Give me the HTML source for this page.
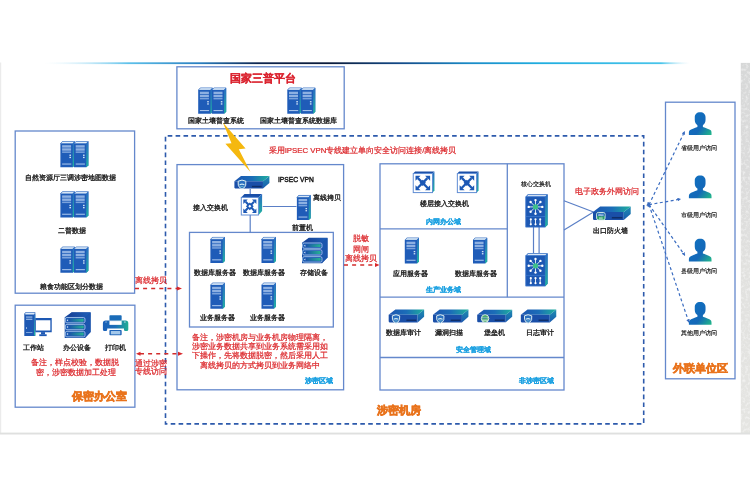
<!DOCTYPE html>
<html><head><meta charset="utf-8">
<style>
html,body{margin:0;padding:0;background:#fff;width:750px;height:491px;overflow:hidden}
svg{display:block;font-family:"Liberation Sans",sans-serif;will-change:transform}
.t{font-size:7.25px;fill:#1c1c1c;stroke:#1c1c1c;stroke-width:0.32}
.r{font-size:7.8px;fill:#dc2a2e;stroke:#dc2a2e;stroke-width:0.24}
.c{font-size:7px;fill:#1ea2e2;font-weight:bold;stroke:#1ea2e2;stroke-width:0.22}
.o{font-size:11px;fill:#e9731c;font-weight:bold;stroke:#e9731c;stroke-width:0.6}
.bx{fill:none;stroke:#6488cc;stroke-width:1.3}
.ln{fill:none;stroke:#5a7fc6;stroke-width:1.2}
.dsh{fill:none;stroke:#2d5aac;stroke-width:1.6;stroke-dasharray:4.6 3.3;stroke-dashoffset:5.7}
.rd{fill:none;stroke:#d22c2c;stroke-width:1.5;stroke-dasharray:4 4.1}
</style></head><body>
<svg width="750" height="491" viewBox="0 0 750 491">
<defs>
<linearGradient id="topln" x1="0" x2="1" y1="0" y2="0">
<stop offset="0" stop-color="#cfeefa" stop-opacity="0"/>
<stop offset="0.13" stop-color="#5cc0ea"/>
<stop offset="0.24" stop-color="#2a7fc0"/>
<stop offset="0.33" stop-color="#0e2550"/>
<stop offset="0.44" stop-color="#0b1b3a"/>
<stop offset="0.55" stop-color="#134a88"/>
<stop offset="0.66" stop-color="#1a8cc8"/>
<stop offset="0.77" stop-color="#20aee0"/>
<stop offset="0.955" stop-color="#48c4ea"/>
<stop offset="1" stop-color="#cfeefa" stop-opacity="0"/>
</linearGradient>
<linearGradient id="pg" x1="0.1" y1="0.2" x2="1" y2="0.9">
<stop offset="0" stop-color="#1070c0"/>
<stop offset="0.55" stop-color="#1468b8"/>
<stop offset="1" stop-color="#20b28c"/>
</linearGradient>
<linearGradient id="teal" x1="0" y1="0" x2="0" y2="1">
<stop offset="0" stop-color="#2a6cc4"/>
<stop offset="1" stop-color="#1fb3a0"/>
</linearGradient>
<linearGradient id="devtop" x1="0" y1="0" x2="1" y2="0">
<stop offset="0" stop-color="#1c55b0"/>
<stop offset="0.5" stop-color="#1b6db8"/>
<stop offset="1" stop-color="#1fb09c"/>
</linearGradient>
<linearGradient id="stortop" x1="0" x2="1" y1="0" y2="0"><stop offset="0" stop-color="#173f94"/><stop offset="1" stop-color="#1e5fb8"/></linearGradient>
<linearGradient id="devtop2" x1="0" x2="1" y1="0" y2="0"><stop offset="0" stop-color="#1a52a9"/><stop offset="1" stop-color="#25b392"/></linearGradient>
<linearGradient id="prng" x1="0" x2="1" y1="0" y2="0"><stop offset="0" stop-color="#1a5fb8"/><stop offset="0.5" stop-color="#1b6fb8"/><stop offset="1" stop-color="#20ae92"/></linearGradient>
<linearGradient id="strip" x1="0" x2="0" y1="0" y2="1"><stop offset="0" stop-color="#d7d8d8"/><stop offset="0.3" stop-color="#dbdbdb"/><stop offset="0.55" stop-color="#e1e1df"/><stop offset="1" stop-color="#e5e5e2"/></linearGradient>
<filter id="noise" x="0" y="0" width="100%" height="100%"><feTurbulence type="fractalNoise" baseFrequency="0.35" numOctaves="2" seed="3" result="n"/><feColorMatrix in="n" type="matrix" values="0 0 0 0 1  0 0 0 0 1  0 0 0 0 1  0 0 0 1.2 -0.55" result="w"/><feComposite in="w" in2="SourceGraphic" operator="in" result="wc"/><feMerge><feMergeNode in="SourceGraphic"/><feMergeNode in="wc"/></feMerge></filter>
<linearGradient id="devside" x1="0" x2="0" y1="0" y2="1"><stop offset="0" stop-color="#1d8fb0"/><stop offset="1" stop-color="#1a5ab0"/></linearGradient>
<!-- single server tower 15x26 -->
<symbol id="srv" viewBox="0 0 15 26" overflow="visible">
<path d="M0.6 2.2 L2.6 0 L15 0 L15 24 L13 26 L0.6 26 Z" fill="#1f5cb8"/>
<path d="M0.8 2.3 L2.8 0.3 L14.8 0.3 L12.8 2.3 Z" fill="#e4f0fb" stroke="#2c68c0" stroke-width="0.4"/>
<path d="M12.9 2.3 L15 0.2 L15 24 L12.9 26 Z" fill="url(#teal)"/>
<rect x="2.3" y="4" width="9" height="2.4" fill="#8db0e2"/>
<rect x="2.3" y="7.1" width="9" height="2.4" fill="#8db0e2"/>
<rect x="2.3" y="10.2" width="9" height="1.5" fill="#7aa2dc"/>
<rect x="9.6" y="13.4" width="1.6" height="1.3" fill="#d4e4f6"/>
<rect x="9.6" y="15.6" width="1.6" height="1.3" fill="#d4e4f6"/>
<rect x="2.3" y="22.3" width="9.2" height="1.1" fill="#a3c1ea"/>
</symbol>
<!-- rack 29x26 -->
<symbol id="rack" viewBox="0 0 29 26" overflow="visible">
<use href="#srv" x="0" y="0" width="15" height="26"/>
<use href="#srv" x="13.6" y="0" width="15" height="26"/>
</symbol>
<!-- access switch 22x22 -->
<symbol id="swb" viewBox="0 0 22 22" overflow="visible">
<path d="M0.3 3.5 L3.8 0 L22 0 L18.2 3.5 Z" fill="#1a4fa8"/>
<path d="M18.2 3.5 L22 0 L22 17.6 L18.2 22 Z" fill="url(#teal)"/>
<rect x="0.5" y="3.5" width="17.7" height="18.2" fill="#fff" stroke="#5d8bd3" stroke-width="1"/>
<g stroke="#1c58b5" stroke-width="2.1" fill="none">
<path d="M5 8 L14 17.3 M13.7 8 L4.7 17.3"/>
</g>
<g fill="#1c58b5">
<path d="M2.6 5.6 L7.2 5.6 L2.6 10.2 Z"/><path d="M16.1 5.6 L11.5 5.6 L16.1 10.2 Z"/>
<path d="M2.6 19.6 L7.2 19.6 L2.6 15 Z"/><path d="M16.1 19.6 L11.5 19.6 L16.1 15 Z"/>
</g>
</symbol>
<symbol id="sw" viewBox="0 0 22 22" overflow="visible">
<use href="#swb" x="0" y="0" width="22" height="22"/>
<rect x="7.3" y="10.7" width="4" height="4" fill="#fff" stroke="#1c58b5" stroke-width="1.7" transform="rotate(45 9.3 12.7)"/>
</symbol>
<symbol id="sw2" viewBox="0 0 22 22" overflow="visible">
<path d="M0.3 2.4 L2.4 0.3 L22 0.3 L20 2.4 Z" fill="#1a4fa8"/>
<path d="M20 2.4 L22 0.3 L22 19.6 L20 21.8 Z" fill="url(#teal)"/>
<rect x="0.5" y="2.4" width="19.5" height="19.3" fill="#fff" stroke="#5d8bd3" stroke-width="1"/>
<g stroke="#1c58b5" stroke-width="2.3" fill="none"><path d="M5.2 7 L15.2 17 M14.9 7 L4.9 17"/></g>
<g fill="#1c58b5">
<path d="M2.8 4.6 L7.9 4.6 L2.8 9.7 Z"/><path d="M17.6 4.6 L12.5 4.6 L17.6 9.7 Z"/>
<path d="M2.8 19.4 L7.9 19.4 L2.8 14.3 Z"/><path d="M17.6 19.4 L12.5 19.4 L17.6 14.3 Z"/>
</g>
<rect x="7.8" y="9.5" width="4.6" height="4.6" fill="#1c58b5" transform="rotate(45 10.1 11.8)"/>
</symbol>
<!-- core switch 22x33 -->
<symbol id="core" viewBox="0 0 22 33" overflow="visible">
<path d="M0 2.5 L2.2 0 L22 0 L22 30.5 L19.6 33 L0 33 Z" fill="#1d58b3"/>
<path d="M0.6 2.5 L2.6 0.5 L21.4 0.5 L19.6 2.5 Z" fill="#eef5fc" stroke="#3a74cc" stroke-width="0.5"/>
<rect x="0.3" y="2.5" width="19.3" height="30.2" fill="#1d58b3" stroke="#3f7bd0" stroke-width="0.6"/>
<path d="M19.6 2.5 L22 0.2 L22 30.6 L19.6 33 Z" fill="url(#teal)"/>
<g stroke="#eaf2fb" stroke-width="0.9">
<path d="M9.9 12.6 L9.9 6 M9.9 12.6 L9.9 19.2 M9.9 12.6 L3.3 12.6 M9.9 12.6 L16.5 12.6 M9.9 12.6 L5.2 7.9 M9.9 12.6 L14.6 7.9 M9.9 12.6 L5.2 17.3 M9.9 12.6 L14.6 17.3"/>
</g>
<g fill="#fff"><circle cx="9.9" cy="5.8" r="1.2"/><circle cx="9.9" cy="19.4" r="1.2"/><circle cx="3.1" cy="12.6" r="1.2"/><circle cx="16.7" cy="12.6" r="1.2"/><circle cx="5" cy="7.7" r="1.2"/><circle cx="14.8" cy="7.7" r="1.2"/><circle cx="5" cy="17.5" r="1.2"/><circle cx="14.8" cy="17.5" r="1.2"/></g>
<circle cx="9.9" cy="12.6" r="2.6" fill="#3cc08a"/>
<line x1="0.3" y1="22.2" x2="19.6" y2="22.2" stroke="#3f7bd0" stroke-width="0.7"/>
<g stroke="#fff" stroke-width="0.9"><path d="M5.2 25 V30 M9.9 25 V30 M14.6 25 V30"/></g>
<g fill="#fff"><circle cx="5.2" cy="25" r="1.1"/><circle cx="5.2" cy="30" r="1.1"/><circle cx="9.9" cy="25" r="1.1"/><circle cx="9.9" cy="30" r="1.1"/><circle cx="14.6" cy="25" r="1.1"/><circle cx="14.6" cy="30" r="1.1"/></g>
</symbol>
<!-- flat device 36x13 -->
<symbol id="dev" viewBox="0 0 36 13" overflow="visible">
<path d="M0 5.3 L6.8 0 L36 0 L29.4 5.3 Z" fill="url(#devtop)"/>
<path d="M0 5.3 H29.4 V13 H0.8 L0 12.2 Z" fill="#1a4fa8"/>
<path d="M29.4 5.3 L36 0 V7.2 L29.4 13 Z" fill="url(#devside)"/>
<rect x="18" y="10.1" width="10" height="1.5" fill="#0f2f6a"/>
</symbol>
<symbol id="shield" viewBox="0 0 10 11" overflow="visible">
<path d="M5 0.6 L9.3 1.9 L9.1 6.4 Q8.2 9.4 5 10.5 Q1.8 9.4 0.9 6.4 L0.7 1.9 Z" fill="#2a6fbf" stroke="#e4f4f4" stroke-width="1.1"/>
<path d="M2.2 5.2 Q5 3.6 7.8 5.2 L7.8 6.6 Q5 5.2 2.2 6.6 Z" fill="#cfeaf2"/>
<path d="M3 8.2 Q5 7.2 7 8.2" stroke="#7fc9d8" stroke-width="0.8" fill="none"/>
</symbol>
<symbol id="globe" viewBox="0 0 10 10" overflow="visible">
<circle cx="5" cy="5" r="4.4" fill="#2f9e5a" stroke="#eaf6ef" stroke-width="1"/>
<path d="M1.2 3.6 H8.8 M0.9 5.6 H9.1 M1.6 7.4 H8.4" stroke="#e9f5ee" stroke-width="0.8"/>
<path d="M2 4.6 H7" stroke="#1e5fb0" stroke-width="0.8"/>
</symbol>
<!-- person 24x24 -->
<symbol id="person" viewBox="0 0 24 24" overflow="visible">
<path d="M11.8 0.2 C15.3 0.2 17.3 2.3 17.3 5.4 L17.3 8.2 C17.3 10.8 16 12.6 14.6 13.5 L14.6 15.2 C17.5 16.3 21.4 17.5 22.6 18.7 C23.3 19.4 23.4 20.4 23.4 21.5 L23.4 23.4 L0.3 23.4 L0.3 21.5 C0.3 20.4 0.5 19.4 1.2 18.7 C2.4 17.5 6.2 16.3 9 15.2 L9 13.5 C7.6 12.6 6.3 10.8 6.3 8.2 L6.3 5.4 C6.3 2.3 8.3 0.2 11.8 0.2 Z" fill="url(#pg)"/>
</symbol>
<!-- storage stack 26x26 -->
<symbol id="stor" viewBox="0 0 26 26" overflow="visible">
<path d="M0 5 L7 0 L26 0 L26 20 L20.5 26 L0 26 Z" fill="#1a4fa6"/>
<path d="M1.5 5 L7 0.3 L26 0.3 L20.5 5 Z" fill="url(#stortop)"/>
<path d="M20.5 5 L26 0.3 L26 20 L20.5 25.5 Z" fill="#1b55ad"/>
<g stroke="#b5d2f2" stroke-width="0.8">
<rect x="0.6" y="5.3" width="19.8" height="5.4" rx="1.6" fill="#1f5bb3"/>
<rect x="0.6" y="12.2" width="19.8" height="5.4" rx="1.6" fill="#1f5bb3"/>
<rect x="0.6" y="19.2" width="19.8" height="5.6" rx="1.6" fill="#1f5bb3"/>
</g>
<rect x="4" y="6.5" width="15" height="3" rx="0.8" fill="url(#devtop2)"/>
<rect x="4" y="13.4" width="15" height="3" rx="0.8" fill="url(#devtop2)"/>
<rect x="4" y="20.5" width="15" height="3" rx="0.8" fill="url(#devtop2)"/>
<g fill="#e6f2fb"><path d="M2 8 L3.4 7 L3.4 9 Z"/><path d="M2 14.9 L3.4 13.9 L3.4 15.9 Z"/><path d="M2 22 L3.4 21 L3.4 23 Z"/></g>
</symbol>
<!-- workstation 29x25 -->
<symbol id="ws" viewBox="0 0 29 25" overflow="visible">
<path d="M0 1.5 L1.2 0 L11.3 0 L11.3 24.5 L0 24.5 Z" fill="#1d58b3"/>
<rect x="1" y="0.5" width="9.6" height="1.8" fill="#dcebfa"/>
<rect x="10" y="2" width="1.3" height="22" fill="url(#teal)"/>
<rect x="1.8" y="4.3" width="6.5" height="1.2" fill="#9cbce6"/>
<rect x="1.8" y="6.6" width="6.5" height="1.2" fill="#9cbce6"/>
<rect x="1.8" y="15.4" width="0.8" height="1.6" fill="#cfe0f5"/>
<rect x="1.8" y="20.4" width="6.5" height="0.9" fill="#8fb2e2"/>
<path d="M11.3 5.8 H28.2 V20.4 H11.3 Z M12 8.3 V18.6 H26.8 V8.3 Z" fill="#1d58b3" fill-rule="evenodd"/>
<rect x="17.2" y="20.4" width="4.1" height="2.4" fill="#1d58b3"/>
<rect x="15.4" y="22.6" width="7.6" height="1.9" fill="#1d58b3"/>
</symbol>
<!-- printer 26x21 -->
<symbol id="prn" viewBox="0 0 26 21" overflow="visible">
<rect x="6.7" y="0" width="12.5" height="5.2" rx="0.8" fill="#1a6cb8"/>
<path d="M2.8 5.4 H23.2 Q26 5.4 26 8.2 V14.6 Q26 16.2 24.4 16.2 H23 Q21.6 16.2 21.6 14.8 V13.5 H4.4 V14.8 Q4.4 16.2 3 16.2 H1.6 Q0 16.2 0 14.6 V8.2 Q0 5.4 2.8 5.4 Z" fill="url(#prng)"/>
<rect x="6.7" y="6" width="12.5" height="3.9" fill="#fff"/>
<rect x="2.6" y="6.6" width="1.2" height="0.8" fill="#d9ebf7"/><rect x="21.6" y="6.6" width="1.8" height="0.8" fill="#d9ebf7"/>
<rect x="6.7" y="15.2" width="12.5" height="5.4" rx="0.8" fill="#1d63b8"/>
<rect x="8.1" y="16.2" width="9.7" height="3.4" fill="#a4c8ea"/>
</symbol>
<marker id="ah" viewBox="0 0 6 6" refX="5" refY="3" markerWidth="3.6" markerHeight="3.6" orient="auto" markerUnits="userSpaceOnUse"><path d="M0 0 L6 3 L0 6 Z" fill="#3a6cc0"/></marker>
<marker id="ahs" viewBox="0 0 6 6" refX="1" refY="3" markerWidth="3.6" markerHeight="3.6" orient="auto-start-reverse" markerUnits="userSpaceOnUse"><path d="M0 0 L6 3 L0 6 Z" fill="#3a6cc0"/></marker>
<symbol id="fwico" viewBox="0 0 10 9" overflow="visible">
<rect x="0.5" y="0.5" width="9" height="8" rx="1.8" fill="#2a9f66" stroke="#def2ee" stroke-width="1"/>
<path d="M1 2.3 Q1 1 2.3 1 H7.7 Q9 1 9 2.3 V4.6 H1 Z" fill="#2466b8"/>
<path d="M2 2.4 H8 M2 3.8 H8 M4 2.4 V3.8 M6 3.8 V4.6" stroke="#d8ecf8" stroke-width="0.6"/>
<path d="M3 6.5 H7" stroke="#e6f5ee" stroke-width="1"/>
</symbol>
</defs>

<!-- frame -->
<rect x="0" y="62.5" width="1.2" height="371" fill="#ebebeb"/>
<rect x="740.8" y="62.9" width="9.2" height="371" fill="url(#strip)" filter="url(#noise)"/>
<rect x="0" y="432.6" width="750" height="1.9" fill="#dfe0df"/>
<rect x="45" y="62.3" width="645" height="1.8" fill="url(#topln)"/>

<!-- boxes -->
<rect class="bx" x="176.9" y="66.8" width="167.3" height="62"/>
<rect class="bx" x="15.2" y="131" width="119.4" height="162.2"/>
<rect class="bx" x="15.2" y="305.2" width="119.7" height="102"/>
<rect class="dsh" x="165.5" y="135.9" width="478.2" height="288"/>
<rect class="bx" x="177" y="164.6" width="166.6" height="225.2"/>
<rect class="bx" x="189.5" y="232.4" width="143.8" height="94.6"/>
<rect class="bx" x="380" y="163.8" width="184" height="226.2"/>
<line class="bx" x1="507.3" y1="163.8" x2="507.3" y2="297.2"/>
<line class="bx" x1="380" y1="228.8" x2="507.3" y2="228.8"/>
<line class="bx" x1="380" y1="297.2" x2="564" y2="297.2"/>
<line class="bx" x1="380" y1="357.5" x2="564" y2="357.5"/>
<rect class="bx" x="665.5" y="102.2" width="69.5" height="276.6"/>

<!-- top platform -->
<text class="o" x="263" y="82" text-anchor="middle" style="fill:#db2430;stroke:#db2430;stroke-width:0.2;font-size:11px">国家三普平台</text>
<use href="#rack" x="197.6" y="87.7" width="29" height="26"/>
<use href="#rack" x="286.7" y="87.7" width="29" height="26"/>
<text class="t" x="216.3" y="122.8" text-anchor="middle">国家土壤普查系统</text>
<text class="t" x="298.1" y="122.8" text-anchor="middle">国家土壤普查系统数据库</text>

<!-- left data -->
<use href="#rack" x="59.8" y="141.2" width="29" height="26"/>
<text class="t" x="70.6" y="180" text-anchor="middle">自然资源厅三调涉密地图数据</text>
<use href="#rack" x="59.8" y="191.4" width="29" height="26"/>
<text class="t" x="71.5" y="233" text-anchor="middle">二普数据</text>
<use href="#rack" x="59.8" y="246.8" width="29" height="26"/>
<text class="t" x="71.2" y="289.2" text-anchor="middle">粮食功能区划分数据</text>

<!-- office -->
<text class="t" x="33.9" y="350" text-anchor="middle">工作站</text>
<text class="t" x="76.6" y="350" text-anchor="middle">办公设备</text>
<text class="t" x="115" y="350" text-anchor="middle">打印机</text>
<use href="#stor" x="64.5" y="312.2" width="26.3" height="25.9"/>
<use href="#ws" x="24.3" y="312.2" width="28.2" height="24.5"/>
<use href="#prn" x="102.6" y="315.2" width="26" height="20.5"/>
<text class="r" x="75.4" y="364.5" text-anchor="middle">备注，样点校验，数据脱</text>
<text class="r" x="75.8" y="374.6" text-anchor="middle">密，涉密数据加工处理</text>
<text class="o" x="99.8" y="399.5" text-anchor="middle">保密办公室</text>

<!-- red connections -->
<line class="rd" x1="135" y1="288.4" x2="178" y2="288.4"/>
<path d="M177 286.4 L182 288.4 L177 290.4 Z" fill="#d8262a"/>
<text class="r" x="150.6" y="283.2" text-anchor="middle">离线拷贝</text>
<line class="rd" x1="140" y1="353.8" x2="179" y2="353.8"/>
<path d="M140.5 351.8 L136 353.8 L140.5 355.8 Z" fill="#d8262a"/>
<path d="M178 351.8 L183 353.8 L178 355.8 Z" fill="#d8262a"/>
<text class="r" x="151.4" y="365.5" text-anchor="middle">通过涉密</text>
<text class="r" x="151.4" y="374" text-anchor="middle">专线访问</text>
<line class="rd" x1="344" y1="265" x2="376" y2="265"/>
<path d="M375 263 L379.5 265 L375 267 Z" fill="#d8262a"/>
<text class="r" x="361" y="241" text-anchor="middle">脱敏</text>
<text class="r" x="361" y="251.6" text-anchor="middle">网闸</text>
<text class="r" x="361.4" y="260.8" text-anchor="middle">离线拷贝</text>

<text class="r" x="362.6" y="152.8" text-anchor="middle">采用IPSEC VPN专线建立单向安全访问连接/离线拷贝</text>

<!-- secret zone -->
<line class="ln" x1="250.2" y1="189" x2="250.2" y2="232.4"/>
<line class="ln" x1="262.7" y1="206.5" x2="296.5" y2="206.5"/>
<use href="#dev" x="234.4" y="175.8" width="35" height="13"/>
<use href="#shield" x="237.5" y="179.5" width="9" height="10"/>
<text class="t" x="278" y="181.7" textLength="35.8" lengthAdjust="spacingAndGlyphs" style="font-size:8px;stroke-width:0.5">IPSEC VPN</text>
<use href="#sw" x="240.7" y="194" width="21.5" height="21.3"/>
<text class="t" x="210.3" y="209.6" text-anchor="middle">接入交换机</text>
<use href="#srv" x="296.3" y="194.6" width="14.4" height="26"/>
<text class="t" x="313" y="200" >离线拷贝</text>
<text class="t" x="302.3" y="229.5" text-anchor="middle">前置机</text>

<use href="#srv" x="209.8" y="236.9" width="15" height="26.2"/>
<use href="#srv" x="260.9" y="236.9" width="15" height="26.2"/>
<use href="#stor" x="301.5" y="237.8" width="26.5" height="25.5"/>
<text class="t" x="214.5" y="275" text-anchor="middle">数据库服务器</text>
<text class="t" x="264.2" y="275" text-anchor="middle">数据库服务器</text>
<text class="t" x="313.5" y="275" text-anchor="middle">存储设备</text>
<use href="#srv" x="209.8" y="282.8" width="15" height="26"/>
<use href="#srv" x="260.9" y="282.8" width="15" height="26"/>
<text class="t" x="217" y="319.8" text-anchor="middle">业务服务器</text>
<text class="t" x="267" y="319.8" text-anchor="middle">业务服务器</text>

<text class="r" x="260" y="340.2" text-anchor="middle">备注，涉密机房与业务机房物理隔离，</text>
<text class="r" x="260" y="349.2" text-anchor="middle">涉密业务数据共享到业务系统需采用如</text>
<text class="r" x="260" y="358.4" text-anchor="middle">下操作，先将数据脱密，然后采用人工</text>
<text class="r" x="260" y="367.8" text-anchor="middle">离线拷贝的方式拷贝到业务网络中</text>
<text class="c" x="319" y="382.6" text-anchor="middle">涉密区域</text>
<text class="o" x="399" y="414" text-anchor="middle">涉密机房</text>

<!-- non-secret zone -->
<use href="#sw2" x="412.2" y="171.2" width="22.8" height="21.7"/>
<use href="#sw2" x="456.3" y="171.2" width="22.8" height="21.7"/>
<text class="t" x="444.6" y="206" text-anchor="middle">楼层接入交换机</text>
<text class="c" x="443" y="224" text-anchor="middle">内网办公域</text>
<use href="#srv" x="404.2" y="237.3" width="14.8" height="26.5"/>
<use href="#srv" x="472.4" y="237.3" width="14.8" height="26.5"/>
<text class="t" x="410.3" y="276" text-anchor="middle">应用服务器</text>
<text class="t" x="476" y="276" text-anchor="middle">数据库服务器</text>
<text class="c" x="443.3" y="291.7" text-anchor="middle">生产业务域</text>

<text class="t" x="536.2" y="186" text-anchor="middle" style="font-size:6.3px;stroke-width:0.2">核心交换机</text>
<line class="ln" x1="533.5" y1="227" x2="533.5" y2="253"/>
<line class="ln" x1="539.1" y1="227" x2="539.1" y2="253"/>
<use href="#core" x="525.6" y="194.3" width="22" height="33"/>
<use href="#core" x="525.6" y="253.2" width="22" height="33"/>

<use href="#dev" x="388.6" y="309.6" width="35.6" height="12.8"/>
<use href="#shield" x="391.3" y="314.2" width="9.4" height="9.4"/>
<use href="#dev" x="432.9" y="309.6" width="35.6" height="12.8"/>
<use href="#shield" x="435.6" y="314.2" width="9.4" height="9.4"/>
<use href="#dev" x="477.2" y="309.6" width="35" height="12.8"/>
<use href="#globe" x="480.8" y="314.2" width="8.6" height="8.6"/>
<use href="#dev" x="520.4" y="309.6" width="36.3" height="12.8"/>
<use href="#shield" x="523.4" y="314.2" width="9.4" height="9.4"/>
<text class="t" x="403.6" y="334.6" text-anchor="middle">数据库审计</text>
<text class="t" x="448.9" y="334.6" text-anchor="middle">漏洞扫描</text>
<text class="t" x="494.8" y="334.6" text-anchor="middle">堡垒机</text>
<text class="t" x="539.7" y="334.6" text-anchor="middle">日志审计</text>
<text class="c" x="473.5" y="352.3" text-anchor="middle">安全管理域</text>
<text class="c" x="536.3" y="382.6" text-anchor="middle">非涉密区域</text>

<!-- firewall -->
<line class="ln" x1="564" y1="200.8" x2="593.5" y2="212"/>
<line class="ln" x1="564" y1="230" x2="593.5" y2="212"/>
<use href="#dev" x="593" y="206.3" width="37.7" height="13.8"/>
<use href="#fwico" x="596" y="212" width="9.7" height="8.4"/>
<text class="r" x="607.4" y="194.3" text-anchor="middle" style="font-size:8px">电子政务外网访问</text>
<text class="t" x="610.3" y="232.6" text-anchor="middle">出口防火墙</text>

<!-- external -->
<use href="#person" x="688.6" y="112" width="23.5" height="23.6"/>
<use href="#person" x="688.6" y="175.3" width="23.5" height="23.6"/>
<use href="#person" x="688.6" y="238.6" width="23.5" height="23.6"/>
<use href="#person" x="688.6" y="301.8" width="23.5" height="23.6"/>
<text class="t" x="699.3" y="150" text-anchor="middle" style="font-size:6.1px;stroke-width:0.2">省级用户访问</text>
<text class="t" x="699.3" y="217" text-anchor="middle" style="font-size:6.1px;stroke-width:0.2">市级用户访问</text>
<text class="t" x="699.3" y="273" text-anchor="middle" style="font-size:6.1px;stroke-width:0.2">县级用户访问</text>
<text class="t" x="699.3" y="334.6" text-anchor="middle" style="font-size:6.1px;stroke-width:0.2">其他用户访问</text>
<text class="o" x="700.8" y="371.6" text-anchor="middle">外联单位区</text>
<g stroke="#3a6cc0" stroke-width="1.2" stroke-dasharray="3 2.5" fill="none" marker-end="url(#ah)" marker-start="url(#ahs)">
<path d="M649 204.7 L684.6 131.5"/>
<path d="M649 204.7 L680.5 199.1"/>
<path d="M649 204.7 L684.8 255.3"/>
<path d="M649 204.7 L688.9 322.3"/>
</g>

<!-- lightning -->
<path d="M222.9 122.4 L245.6 148.4 L238.8 149.3 L250.5 172 L225.4 143.8 L231.5 143.2 Z" fill="#f5b80f"/>
</svg>
</body></html>
